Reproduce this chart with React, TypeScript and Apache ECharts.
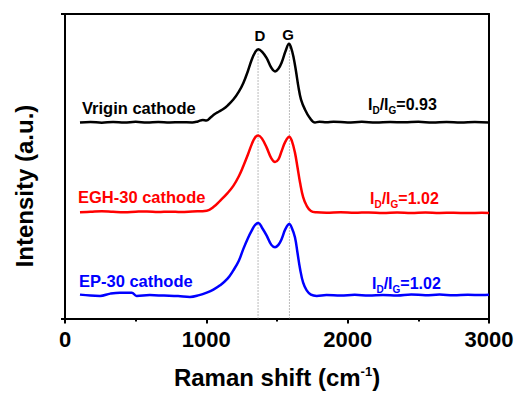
import React, { useEffect, useRef } from "react";
import * as echarts from "echarts";

const FONT = "Liberation Sans, Arial, sans-serif";

const X_BLACK = [106, 180, 260, 340, 420, 500, 580, 660, 740, 820, 900, 940, 975, 1000, 1030, 1060, 1090, 1120, 1150, 1191, 1230, 1262, 1295, 1321, 1345, 1368, 1395, 1427, 1460, 1486, 1510, 1535, 1560, 1585, 1600, 1616, 1635, 1651, 1670, 1698, 1730, 1769, 1800, 1850, 1900, 2000, 2100, 2200, 2300, 2400, 2500, 2600, 2700, 2800, 2900, 3000];
const Y_BLACK = [197, 197.5, 196.8, 197.5, 197, 197.6, 197, 197.4, 197, 197.3, 197, 198, 199.5, 199, 202, 205.5, 208, 210.5, 214, 220, 228, 236.7, 249, 260, 267.5, 270.7, 268, 261.7, 252, 248.3, 251, 258, 268.5, 276, 272, 263.3, 248, 233.3, 220, 210, 202, 197, 197.8, 197.2, 197.8, 197, 197.6, 197, 197.5, 197.1, 197.6, 197, 197.4, 197, 197.5, 197];

const X_RED = [106, 180, 260, 340, 420, 500, 580, 660, 740, 820, 900, 1003, 1050, 1097, 1150, 1191, 1230, 1262, 1295, 1321, 1345, 1368, 1395, 1427, 1460, 1486, 1510, 1533, 1560, 1587, 1605, 1627, 1645, 1663, 1685, 1710, 1740, 1781, 1850, 1950, 2050, 2150, 2250, 2350, 2450, 2550, 2650, 2750, 2850, 2950, 3000];
const Y_RED = [106.7, 107.2, 107.8, 107.2, 106.8, 107.3, 107.6, 107, 107.4, 107, 107.5, 108.3, 112, 118.3, 126, 133.3, 143, 153.3, 165, 175, 182, 184, 180.5, 171.7, 161, 157.3, 160, 168.3, 178, 182.7, 178.5, 166.7, 152, 136.7, 122, 113.3, 108, 106.7, 106.3, 106.8, 106.2, 106.6, 106.1, 106.5, 106, 106.4, 106, 106.3, 105.9, 106.2, 106];

const X_BLUE = [106, 180, 248, 320, 389, 472, 507, 600, 700, 800, 884, 950, 1003, 1050, 1097, 1150, 1191, 1230, 1262, 1295, 1321, 1345, 1368, 1395, 1427, 1460, 1486, 1510, 1533, 1560, 1587, 1605, 1627, 1645, 1663, 1685, 1710, 1740, 1781, 1850, 1950, 2050, 2150, 2250, 2350, 2450, 2550, 2650, 2750, 2850, 2950, 3000];
const Y_BLUE = [24, 23, 22.7, 25, 26, 26, 22.7, 23.5, 23, 22.5, 21.7, 23.5, 26, 29, 33.3, 40, 48.3, 58, 70, 81, 88.3, 94, 96, 91, 83.3, 74, 71.7, 74, 80, 90, 95, 91, 81.7, 66, 50, 36, 28.3, 24, 22.7, 23.5, 23, 23.8, 23, 23.6, 23.2, 24.2, 23.4, 24, 23.3, 23.8, 23.5, 23.8];

const PEAK_D = 1366;
const PEAK_G = 1588;
const PEAK_TOP_D = 270;
const PEAK_TOP_G = 275;

const Y_MAX = 306;

const zip = (xs: number[], ys: number[]) => xs.map((x, i) => [x, ys[i]]);

export default function App() {
  const ref = useRef<HTMLDivElement>(null);
  useEffect(() => {
    if (!ref.current) return;
    const chart = echarts.init(ref.current, null, { renderer: "svg" });
    const ratioRich = (color: string) => ({
      m: { fontSize: 16, fontWeight: "bold", fontFamily: FONT, fill: color, lineHeight: 22, verticalAlign: "middle" },
      s: { fontSize: 10, fontWeight: "bold", fontFamily: FONT, fill: color, lineHeight: 9, verticalAlign: "bottom" },
    });
    const label = (x: number, y: number, text: string, color: string) => ({
      type: "text",
      x,
      y,
      style: { text, fill: color, font: `bold 16.5px ${FONT}`, align: "left", verticalAlign: "middle" },
    });
    const ratio = (x: number, y: number, v: string, color: string) => ({
      type: "text",
      x,
      y,
      style: {
        text: `{m|I}{s|D}{m|/I}{s|G}{m|=${v}}`,
        fill: color,
        rich: ratioRich(color),
        align: "left",
        verticalAlign: "middle",
      },
    });
    const dotted = { color: "#777", width: 1, type: [1, 2] };
    const option: any = {
      animation: false,
      grid: { left: 65, right: 28, top: 14, bottom: 73, containLabel: false },
      xAxis: [
        {
          type: "value",
          min: 0,
          max: 3000,
          interval: 1000,
          position: "bottom",
          axisLine: { show: true, lineStyle: { color: "#000", width: 2 } },
          axisTick: { show: true, length: 5, lineStyle: { color: "#000", width: 2 } },
          minorTick: { show: true, splitNumber: 2, length: 3, lineStyle: { color: "#000", width: 2 } },
          splitLine: { show: false },
          axisLabel: {
            fontSize: 22,
            fontWeight: "bold",
            fontFamily: FONT,
            color: "#000",
            margin: 10,
            formatter: (v: number) => String(v),
          },
          name: "Raman shift (cm{sup|-1})",
          nameLocation: "middle",
          nameGap: 46,
          nameTextStyle: {
            fontSize: 24,
            fontWeight: "bold",
            fontFamily: FONT,
            color: "#000",
            rich: { sup: { fontSize: 13, fontWeight: "bold", fontFamily: FONT, color: "#000", padding: [0, 0, 12, 0] } },
          },
        },
        {
          type: "value",
          min: 0,
          max: 3000,
          position: "top",
          axisLine: { show: true, onZero: false, lineStyle: { color: "#000", width: 2 } },
          axisTick: { show: false },
          axisLabel: { show: false },
          splitLine: { show: false },
        },
      ],
      yAxis: [
        {
          type: "value",
          min: 0,
          max: Y_MAX,
          interval: Y_MAX,
          axisLine: { show: true, lineStyle: { color: "#000", width: 2 } },
          axisTick: { show: true, length: 4, lineStyle: { color: "#000", width: 2 } },
          axisLabel: { show: false },
          splitLine: { show: false },
        },
        {
          type: "value",
          min: 0,
          max: Y_MAX,
          position: "right",
          axisLine: { show: true, onZero: false, lineStyle: { color: "#000", width: 2 } },
          axisTick: { show: false },
          axisLabel: { show: false },
          splitLine: { show: false },
        },
      ],
      series: [
        { type: "line", data: [[PEAK_D, 0], [PEAK_D, PEAK_TOP_D]], symbol: "none", lineStyle: dotted, z: 1 },
        { type: "line", data: [[PEAK_G, 0], [PEAK_G, PEAK_TOP_G]], symbol: "none", lineStyle: dotted, z: 1 },
        { type: "line", data: zip(X_BLACK, Y_BLACK), symbol: "none", smooth: 0.4, lineStyle: { color: "#000", width: 2.5 }, z: 3 },
        { type: "line", data: zip(X_RED, Y_RED), symbol: "none", smooth: 0.4, lineStyle: { color: "#ff0000", width: 2.5 }, z: 3 },
        { type: "line", data: zip(X_BLUE, Y_BLUE), symbol: "none", smooth: 0.4, lineStyle: { color: "#0000ff", width: 2.5 }, z: 3 },
      ],
      graphic: [
        {
          type: "text",
          x: 24,
          y: 186,
          rotation: Math.PI / 2,
          style: { text: "Intensity (a.u.)", fill: "#000", font: `bold 24px ${FONT}`, align: "center", verticalAlign: "middle" },
        },
        { type: "text", x: 260, y: 35, style: { text: "D", fill: "#000", font: `bold 15px ${FONT}`, align: "center", verticalAlign: "middle" } },
        { type: "text", x: 288, y: 34, style: { text: "G", fill: "#000", font: `bold 15px ${FONT}`, align: "center", verticalAlign: "middle" } },
        label(82, 108, "Vrigin cathode", "#000"),
        label(78, 197, "EGH-30 cathode", "#ff0000"),
        label(79, 281, "EP-30 cathode", "#0000ff"),
        ratio(368, 104, "0.93", "#000"),
        ratio(370, 198, "1.02", "#ff0000"),
        ratio(372, 283, "1.02", "#0000ff"),
      ],
    };
    chart.setOption(option);
    return () => chart.dispose();
  }, []);
  return <div ref={ref} style={{ width: 517, height: 394, position: "absolute", left: 0, top: 0 }} />;
}
